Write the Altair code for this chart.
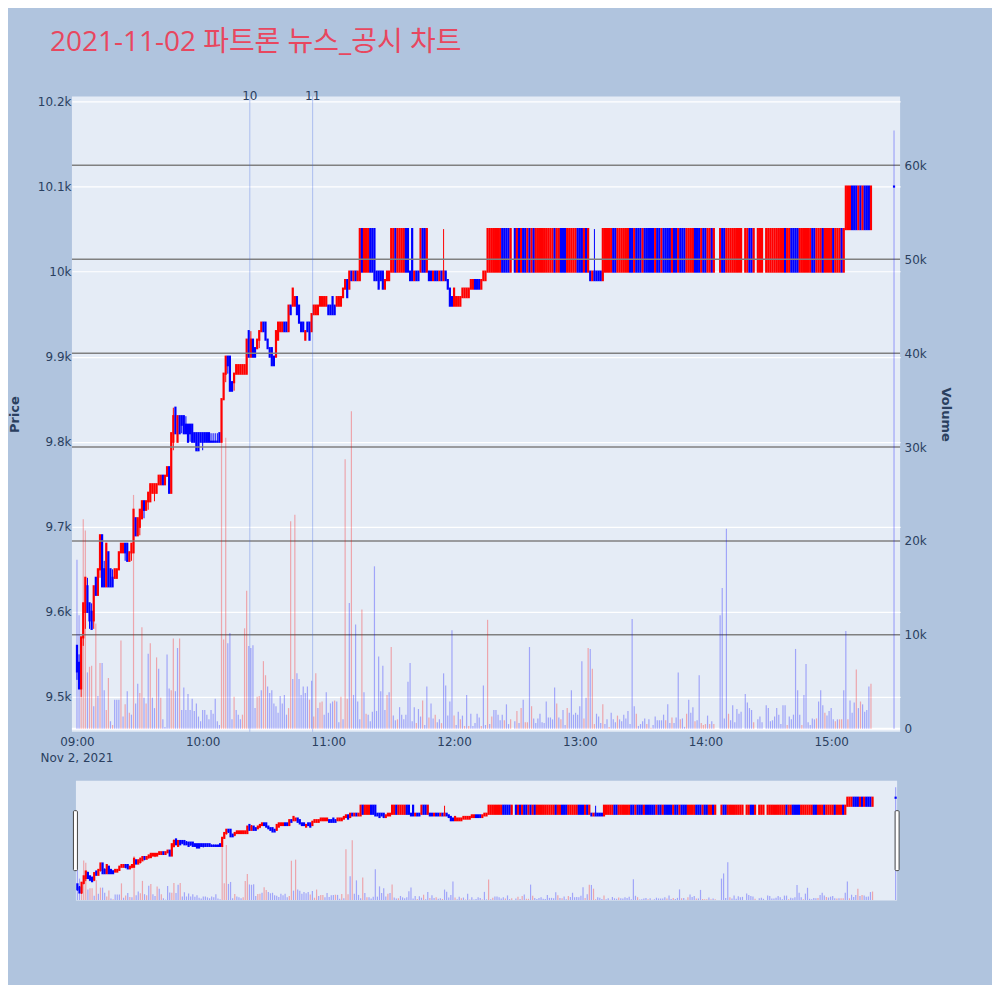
import altair as alt
import pandas as pd

TITLE = "2021-11-02 파트론 뉴스_공시 차트"
DATE_LABEL = "Nov 2, 2021"

# one entry per minute starting 09:00 (None = no trade in that minute)
opens = [
    9560, 9540, 9510, 9570, 9600, 9630, 9610, 9600, 9590, 9640,
    9620, 9650, 9690, 9650, 9630, 9670, 9650, 9640, 9640, 9640,
    9650, 9670, 9670, 9680, 9680, 9660, 9670, 9670, 9710, 9690,
    9700, 9710, 9730, 9720, 9730, 9730, 9740, 9740, 9740, 9750,
    9750, 9760, 9750, 9760, 9770, 9740, 9800, 9840, 9800, 9830,
    9830, 9830, 9820, 9820, 9820, 9820, 9810, 9810, 9810, 9810,
    9810, 9810, 9810, 9810, 9800, 9800, 9800, 9800, 9810, 9800,
    9850, 9880, 9900, 9900, 9870, 9870, 9880, 9880, 9880, 9880,
    9880, 9880, 9930, 9900, 9920, 9910, 9910, 9920, 9930, 9940,
    9940, 9920, 9910, 9910, 9900, 9900, 9920, 9930, 9930, 9940,
    9940, 9930, 9960, 9960, 9960, 9970, 9960, 9940, 9940, 9920,
    9940, 9940, 9930, 9950, 9950, 9950, 9960, 9960, 9960, 9960,
    9960, 9960, 9970, 9960, 9960, 9960, 9960, 9970, 9980, 9990,
    9980, 10000, 9990, 10000, 9990, 9990, 10050, 10000, 10000, 10000,
    10050, 10050, 10050, 10000, 10000, 10000, 10000, 9980, 9990, 9990,
    10000, 10000, 10050, 10000, 10000, 10000, 10000, 10050, 10050, 10000,
    10050, 9990, 10000, 10000, 10000, 10050, 10050, 10000, 10000, 10000,
    9990, 10000, 10000, 9990, 10000, 9990, 10000, 9990, 9980, 9970,
    9960, 9960, 9960, 9960, 9970, 9970, 9970, 9970, 9980, 9980,
    9990, 9990, 9990, 9980, 9990, 9990, 10000, 10000, 10000, 10000,
    10000, 10000, 10000, 10050, 10050, 10050, 10050, 10000, None, 10050,
    10000, 10050, 10000, 10050, 10050, 10000, 10050, 10000, 10050, 10000,
    10000, 10000, 10000, 10000, 10000, 10000, 10000, 10000, 10050, 10000,
    10000, 10050, 10050, 10050, 10000, 10000, 10000, 10000, 10000, 10050,
    10050, 10050, 10000, 10050, 10000, 10000, 9990, 10000, 10000, 10000,
    10000, 9990, 10000, 10000, 10000, 10000, 10050, 10050, 10000, 10000,
    10000, 10000, 10000, 10000, 10050, 10050, 10000, 10050, 10050, 10050,
    10000, 10050, 10050, 10050, 10050, 10050, 10000, 10050, 10050, 10000,
    10050, 10050, 10050, 10050, 10000, 10050, 10050, 10000, 10050, 10050,
    10050, 10000, 10000, 10000, 10000, 10050, 10050, 10050, 10000, 10050,
    10050, 10000, 10000, 10050, 10000, None, None, 10000, 10050, 10050,
    10000, 10000, 10000, 10000, 10000, 10000, 10000, 10000, None, 10000,
    10000, 10050, 10050, 10000, None, 10000, 10000, 10000, None, 10000,
    10000, 10000, 10000, 10000, 10000, 10000, 10000, 10000, 10050, 10000,
    10000, 10050, 10050, 10050, 10050, 10000, 10000, 10000, 10000, 10000,
    10000, 10050, 10050, 10000, 10000, 10000, 10050, 10000, 10000, 10000,
    10000, 10050, 10000, 10000, 10000, 10050, 10000, 10050, 10050, 10050,
    10100, 10100, 10100, 10050, 10100, 10050, 10100, 10100, 10100, 10050,
    None, None, None, None, None, None, None, None, None, None,
    10100,
]
closes = [
    9530, 9510, 9570, 9610, 9640, 9600, 9590, 9580, 9630, 9620,
    9650, 9690, 9630, 9630, 9680, 9630, 9630, 9630, 9650, 9650,
    9670, 9680, 9680, 9670, 9660, 9670, 9680, 9720, 9690, 9710,
    9720, 9730, 9720, 9730, 9740, 9750, 9750, 9750, 9750, 9760,
    9760, 9750, 9760, 9770, 9740, 9810, 9830, 9810, 9830, 9810,
    9820, 9810, 9810, 9800, 9810, 9800, 9800, 9790, 9790, 9800,
    9800, 9800, 9800, 9800, 9800, 9800, 9800, 9800, 9800, 9850,
    9880, 9900, 9890, 9860, 9860, 9880, 9890, 9890, 9890, 9890,
    9890, 9920, 9900, 9920, 9900, 9900, 9920, 9930, 9940, 9930,
    9920, 9910, 9900, 9890, 9890, 9930, 9940, 9940, 9940, 9930,
    9930, 9960, 9950, 9980, 9970, 9950, 9940, 9930, 9930, 9930,
    9930, 9920, 9950, 9960, 9960, 9960, 9970, 9970, 9970, 9970,
    9950, 9950, 9950, 9950, 9970, 9970, 9970, 9980, 9990, 9970,
    10000, 9990, 10000, 9990, 10000, 10050, 10000, 10050, 10050, 10050,
    10000, 10000, 9990, 9990, 9980, 9990, 9980, 9990, 10000, 10000,
    10050, 10050, 10000, 10050, 10050, 10050, 10050, 10000, 10000, 9990,
    9990, 10000, 9990, 9990, 10050, 10000, 10000, 10050, 9990, 9990,
    10000, 9990, 9990, 10000, 9990, 10000, 9990, 9980, 9960, 9960,
    9980, 9970, 9970, 9970, 9980, 9980, 9980, 9980, 9990, 9990,
    9980, 9980, 9980, 9990, 10000, 10000, 10050, 10050, 10050, 10050,
    10050, 10050, 10050, 10000, 10000, 10000, 10000, 10050, None, 10000,
    10050, 10000, 10050, 10000, 10000, 10050, 10000, 10050, 10000, 10050,
    10050, 10050, 10050, 10050, 10050, 10050, 10050, 10050, 10000, 10050,
    10050, 10000, 10000, 10000, 10050, 10050, 10050, 10050, 10050, 10000,
    10000, 10000, 10050, 10000, 10050, 9990, 10000, 9990, 9990, 9990,
    9990, 10050, 10050, 10050, 10050, 10050, 10000, 10000, 10050, 10050,
    10050, 10050, 10050, 10050, 10000, 10000, 10050, 10000, 10000, 10000,
    10050, 10000, 10000, 10000, 10000, 10000, 10050, 10000, 10000, 10050,
    10000, 10000, 10000, 10000, 10050, 10000, 10000, 10050, 10000, 10000,
    10000, 10050, 10050, 10050, 10050, 10000, 10000, 10000, 10050, 10000,
    10000, 10050, 10050, 10000, 10050, None, None, 10050, 10000, 10000,
    10050, 10050, 10050, 10050, 10050, 10050, 10050, 10050, None, 10050,
    10050, 10000, 10000, 10050, None, 10050, 10050, 10050, None, 10050,
    10050, 10050, 10050, 10050, 10050, 10050, 10050, 10050, 10000, 10050,
    10050, 10000, 10000, 10000, 10000, 10050, 10050, 10050, 10050, 10050,
    10050, 10000, 10000, 10050, 10050, 10050, 10000, 10050, 10050, 10050,
    10050, 10000, 10050, 10050, 10050, 10000, 10050, 10100, 10100, 10100,
    10050, 10050, 10050, 10100, 10050, 10100, 10050, 10050, 10050, 10100,
    None, None, None, None, None, None, None, None, None, None,
    10100,
]
highs = [
    9560, 9550, 9570, 9610, 9640, 9640, 9610, 9610, 9630, 9640,
    9650, 9690, 9690, 9660, 9680, 9670, 9650, 9650, 9650, 9650,
    9670, 9680, 9680, 9680, 9680, 9670, 9680, 9720, 9710, 9710,
    9720, 9730, 9730, 9730, 9740, 9750, 9750, 9750, 9750, 9760,
    9760, 9760, 9760, 9770, 9770, 9810, 9840, 9840, 9830, 9830,
    9830, 9830, 9830, 9820, 9820, 9820, 9810, 9810, 9810, 9810,
    9810, 9810, 9810, 9810, 9810, 9810, 9810, 9810, 9810, 9850,
    9880, 9900, 9900, 9900, 9870, 9880, 9890, 9890, 9890, 9890,
    9890, 9920, 9930, 9930, 9920, 9910, 9920, 9930, 9940, 9940,
    9940, 9920, 9910, 9910, 9900, 9930, 9940, 9940, 9940, 9940,
    9940, 9960, 9960, 9980, 9970, 9970, 9960, 9940, 9940, 9930,
    9940, 9940, 9950, 9960, 9960, 9960, 9970, 9970, 9970, 9970,
    9960, 9960, 9970, 9960, 9970, 9970, 9970, 9980, 9990, 9990,
    10000, 10000, 10000, 10000, 10000, 10050, 10050, 10050, 10050, 10050,
    10050, 10050, 10050, 10000, 10000, 10000, 10000, 9990, 10000, 10000,
    10050, 10050, 10050, 10050, 10050, 10050, 10050, 10050, 10050, 10000,
    10050, 10000, 10000, 10000, 10050, 10050, 10050, 10050, 10000, 10000,
    10000, 10000, 10000, 10000, 10000, 10050, 10000, 9990, 9980, 9970,
    9980, 9970, 9970, 9970, 9980, 9980, 9980, 9980, 9990, 9990,
    9990, 9990, 9990, 9990, 10000, 10000, 10050, 10050, 10050, 10050,
    10050, 10050, 10050, 10050, 10050, 10050, 10050, 10050, None, 10050,
    10050, 10050, 10050, 10050, 10050, 10050, 10050, 10050, 10050, 10050,
    10050, 10050, 10050, 10050, 10050, 10050, 10050, 10050, 10050, 10050,
    10050, 10050, 10050, 10050, 10050, 10050, 10050, 10050, 10050, 10050,
    10050, 10050, 10050, 10050, 10050, 10000, 10000, 10050, 10000, 10000,
    10000, 10050, 10050, 10050, 10050, 10050, 10050, 10050, 10050, 10050,
    10050, 10050, 10050, 10050, 10050, 10050, 10050, 10050, 10050, 10050,
    10050, 10050, 10050, 10050, 10050, 10050, 10050, 10050, 10050, 10050,
    10050, 10050, 10050, 10050, 10050, 10050, 10050, 10050, 10050, 10050,
    10050, 10050, 10050, 10050, 10050, 10050, 10050, 10050, 10050, 10050,
    10050, 10050, 10050, 10050, 10050, None, None, 10050, 10050, 10050,
    10050, 10050, 10050, 10050, 10050, 10050, 10050, 10050, None, 10050,
    10050, 10050, 10050, 10050, None, 10050, 10050, 10050, None, 10050,
    10050, 10050, 10050, 10050, 10050, 10050, 10050, 10050, 10050, 10050,
    10050, 10050, 10050, 10050, 10050, 10050, 10050, 10050, 10050, 10050,
    10050, 10050, 10050, 10050, 10050, 10050, 10050, 10050, 10050, 10050,
    10050, 10050, 10050, 10050, 10050, 10050, 10050, 10100, 10100, 10100,
    10100, 10100, 10100, 10100, 10100, 10100, 10100, 10100, 10100, 10100,
    None, None, None, None, None, None, None, None, None, None,
    10100,
]
lows = [
    9520, 9510, 9500, 9560, 9580, 9600, 9580, 9580, 9580, 9620,
    9620, 9640, 9630, 9630, 9630, 9630, 9630, 9630, 9640, 9640,
    9650, 9670, 9670, 9660, 9660, 9660, 9660, 9670, 9690, 9690,
    9690, 9710, 9710, 9720, 9720, 9730, 9740, 9730, 9740, 9750,
    9750, 9750, 9750, 9760, 9740, 9740, 9790, 9810, 9800, 9810,
    9810, 9810, 9810, 9800, 9800, 9800, 9800, 9790, 9790, 9800,
    9790, 9800, 9800, 9800, 9800, 9800, 9800, 9800, 9800, 9800,
    9850, 9870, 9880, 9860, 9860, 9860, 9880, 9880, 9880, 9880,
    9880, 9880, 9900, 9900, 9900, 9900, 9910, 9910, 9930, 9930,
    9920, 9910, 9900, 9890, 9890, 9900, 9920, 9930, 9930, 9930,
    9930, 9930, 9950, 9960, 9960, 9950, 9940, 9930, 9930, 9920,
    9930, 9920, 9930, 9950, 9950, 9950, 9960, 9960, 9960, 9960,
    9950, 9950, 9950, 9950, 9960, 9960, 9960, 9970, 9980, 9970,
    9980, 9990, 9990, 9990, 9990, 9990, 10000, 10000, 10000, 10000,
    10000, 10000, 9990, 9990, 9980, 9990, 9980, 9980, 9990, 9990,
    10000, 10000, 10000, 10000, 10000, 10000, 10000, 10000, 10000, 9990,
    9990, 9990, 9990, 9990, 10000, 10000, 10000, 10000, 9990, 9990,
    9990, 9990, 9990, 9990, 9990, 9990, 9990, 9980, 9960, 9960,
    9960, 9960, 9960, 9960, 9970, 9970, 9970, 9970, 9980, 9980,
    9980, 9980, 9980, 9980, 9990, 9990, 10000, 10000, 10000, 10000,
    10000, 10000, 10000, 10000, 10000, 10000, 10000, 10000, None, 10000,
    10000, 10000, 10000, 10000, 10000, 10000, 10000, 10000, 10000, 10000,
    10000, 10000, 10000, 10000, 10000, 10000, 10000, 10000, 10000, 10000,
    10000, 10000, 10000, 10000, 10000, 10000, 10000, 10000, 10000, 10000,
    10000, 10000, 10000, 10000, 10000, 9990, 9990, 9990, 9990, 9990,
    9990, 9990, 10000, 10000, 10000, 10000, 10000, 10000, 10000, 10000,
    10000, 10000, 10000, 10000, 10000, 10000, 10000, 10000, 10000, 10000,
    10000, 10000, 10000, 10000, 10000, 10000, 10000, 10000, 10000, 10000,
    10000, 10000, 10000, 10000, 10000, 10000, 10000, 10000, 10000, 10000,
    10000, 10000, 10000, 10000, 10000, 10000, 10000, 10000, 10000, 10000,
    10000, 10000, 10000, 10000, 10000, None, None, 10000, 10000, 10000,
    10000, 10000, 10000, 10000, 10000, 10000, 10000, 10000, None, 10000,
    10000, 10000, 10000, 10000, None, 10000, 10000, 10000, None, 10000,
    10000, 10000, 10000, 10000, 10000, 10000, 10000, 10000, 10000, 10000,
    10000, 10000, 10000, 10000, 10000, 10000, 10000, 10000, 10000, 10000,
    10000, 10000, 10000, 10000, 10000, 10000, 10000, 10000, 10000, 10000,
    10000, 10000, 10000, 10000, 10000, 10000, 10000, 10050, 10050, 10050,
    10050, 10050, 10050, 10050, 10050, 10050, 10050, 10050, 10050, 10050,
    None, None, None, None, None, None, None, None, None, None,
    10100,
]
volumes = [
    18000, 12100, 3400, 22300, 21100, 6000, 6600, 6700, 2400, 11200,
    3500, 7000, 7000, 4100, 2000, 5400, 800, 400, 3100, 3100,
    3100, 9400, 1300, 2600, 4000, 1700, 1500, 24900, 2700, 4800,
    3800, 10800, 3300, 2700, 8000, 9100, 3300, 2200, 7600, 6400,
    3300, 1000, 200, 7900, 4300, 4100, 9600, 4000, 8600, 9600,
    2000, 4400, 2000, 3700, 2000, 3200, 1900, 2700, 1300, 800,
    2000, 2000, 1500, 1000, 2000, 1600, 3200, 800, 400, 35000,
    9500, 31000, 9100, 10200, 1000, 3400, 2000, 1500, 1000, 1500,
    10700, 14700, 8800, 8600, 8900, 2200, 3400, 3500, 4100, 7200,
    5700, 4500, 3800, 4100, 2700, 2400, 1700, 3500, 2700, 3600,
    1500, 2200, 22100, 5300, 22800, 5900, 5300, 3600, 4500, 3800,
    4500, 3100, 5100, 1300, 5900, 2200, 2800, 2900, 1500, 3900,
    1700, 2700, 2900, 3000, 2900, 700, 3400, 1000, 28700, 3200,
    13400, 33800, 3600, 11100, 2900, 1000, 12700, 3900, 1600, 1500,
    800, 1800, 17300, 1900, 7700, 4000, 6700, 2000, 3600, 3900,
    8700, 1400, 900, 1000, 2300, 1500, 1000, 1500, 5000, 7000,
    800, 2300, 600, 2100, 1300, 3000, 400, 4500, 1200, 2700,
    1100, 1500, 700, 1000, 600, 5900, 4600, 1400, 2900, 10500,
    1400, 400, 1800, 1000, 1400, 300, 3600, 300, 1600, 300,
    600, 1600, 1200, 300, 4600, 400, 11600, 500, 1300, 2000,
    2000, 1500, 900, 1500, 900, 2600, 500, 1000, None, 800,
    1900, 600, 2200, 3100, 700, 700, 8700, 2400, 1100, 600,
    1100, 1600, 700, 600, 2900, 1200, 1200, 1000, 4400, 2700,
    1200, 1000, 2000, 400, 2200, 1700, 4100, 1500, 1700, 1500,
    2400, 7200, 1100, 3300, 8600, 8500, 6400, 500, 1600, 1300,
    600, 2600, 500, 1000, 200, 1700, 1000, 700, 1400, 1000,
    800, 1500, 1100, 1900, 500, 11700, 2400, 1600, 300, 500,
    800, 1100, 500, 1000, 100, 400, 1300, 900, 900, 900,
    1500, 900, 2600, 600, 1200, 600, 1200, 6000, 1000, 1100,
    200, 1600, 3100, 1700, 2300, 800, 900, 5700, 600, 400,
    500, 1400, 500, 800, 500, None, None, 12100, 15000, 1100,
    21300, 1600, 900, 2500, 700, 2100, 1600, 1800, None, 3700,
    2800, 2200, 2000, 700, None, 1000, 1300, 700, None, 2500,
    2200, 800, 900, 1300, 2200, 1500, 500, 2500, 2500, 400,
    1300, 1000, 1500, 8500, 4100, 1500, 400, 3600, 6900, 700,
    400, 1100, 1000, 1100, 2900, 4100, 2500, 1700, 1400, 1900,
    2200, 1000, 800, 1000, 1000, 1000, 4100, 10400, 1000, 3000,
    1700, 2800, 6300, 2200, 2900, 2600, 1800, 2000, 4500, 4800,
    None, None, None, None, None, None, None, None, None, None,
    63700,
]
# colour of each volume bar: r = rising, b = falling
vol_dirs = (
    "bbrrrbrrbr" "brbbrrbrbb" "brbrbrbrbb" "rrbrbrbbrb" "rbbbbrrbbr"
    "bbbbbbbbbb" "bbbbbbbbbr" "rrbbbrbbbr" "rrbbbbrrbr" "rbbbbbbbbb"
    "brrbrbbbbb" "brbrrbrrbb" "bbbrbbrbrr" "brbbbbrbrb" "bbbbbbbbrb"
    "rbbrbbbbbb" "bbrbbrbbrb" "brbbrbbbbb" "rbbrbrbrbb" "bbbrbbrbrb"
    "bbbbrbbrbb" "rbrbrrbrbb" "bbbbbbbbbr" "brbbrbbbbb" "bbrbrbrrbb"
    "brbbrbbbrb" "bbbbbbbrbb" "bbrbrbbbbb" "brbbrbbbrb" "brbbbrbbrr"
    "rbrbrbbbbb" "brbbbbbbbb" "bbbrbbbbbb" "bbbbbbbbbr" "bbbbbbrbbb"
    "bbbrbbbrbb" "bbrbrrbbrb" "bbrbrbbbbr" "bbbbbbbbbb" "b"
)

news_times = ["10:22:30", "10:52:30"]
news_labels = ["10", "11"]
hour_ticks = ["09:00", "10:00", "11:00", "12:00", "13:00", "14:00", "15:00"]
price_ticks = [9500, 9600, 9700, 9800, 9900, 10000, 10100, 10200]
volume_ticks = [0, 10000, 20000, 30000, 40000, 50000, 60000]

PAPER = "#b0c4de"
PLOT_BG = "#e5ecf6"
INK = "#2a3f5f"
FONT = "DejaVu Sans"
TITLE_FONT = '"Open Sans", "Noto Sans CJK KR", sans-serif'
UP, DOWN = "#ff0000", "#0000ff"


def to_minutes(hhmm):
    parts = [int(p) for p in hhmm.split(":")]
    secs = parts[2] if len(parts) > 2 else 0
    return (parts[0] - 9) * 60 + parts[1] + secs / 60


df = pd.DataFrame({
    "t": range(len(opens)),
    "open": opens, "high": highs, "low": lows, "close": closes,
    "volume": volumes, "vdir": list(vol_dirs),
})
candles = df.dropna(subset=["open"]).copy()
candles["col"] = [UP if c > o else DOWN for o, c in zip(candles["open"], candles["close"])]
vol = df.dropna(subset=["volume"]).copy()
vol["col"] = [UP if d == "r" else DOWN for d in vol["vdir"]]

news = pd.DataFrame({"t": [to_minutes(s) for s in news_times], "label": news_labels})

W, H = 829, 636
SW, SH = 826, 120

x_main = alt.Scale(domain=[-2.4, 392.9], nice=False, zero=False, padding=0)
x_slider = alt.Scale(domain=[-0.7, 390.7], range=[4, 826], nice=False, zero=False, padding=0)
y_price = alt.Scale(domain=[9459, 10206], nice=False, zero=False)
y_vol = alt.Scale(domain=[-320, 67340], nice=False, zero=False)

x_axis = alt.Axis(
    values=[to_minutes(h) for h in hour_ticks],
    labelExpr="(datum.value < 60 ? '0' : '') + (9 + floor(datum.value / 60)) + ':00'",
    grid=False, domain=False, ticks=False, labelPadding=5,
    labelFont=FONT, labelFontSize=12, labelColor=INK, title=None,
)
price_axis = alt.Axis(
    values=price_ticks, format="~s", grid=True, gridColor="white", gridWidth=1.2,
    domain=False, ticks=False, tickSize=0, labelPadding=1,
    labelFont=FONT, labelFontSize=12, labelColor=INK,
    title="Price", titleFont=FONT, titleFontSize=13, titleFontWeight="bold",
    titleColor=INK, titlePadding=16,
)
vol_axis = alt.Axis(
    orient="right", values=volume_ticks, format="~s",
    labelExpr="datum.value == 0 ? '0' : format(datum.value, '~s')", grid=False,
    domain=False, ticks=False, tickSize=0, labelPadding=4,
    labelFont=FONT, labelFontSize=12, labelColor=INK,
    title="Volume", titleFont=FONT, titleFontSize=13, titleFontWeight="bold",
    titleColor=INK, titlePadding=12,
)


def candle_layers(xs, xa, pa, va):
    x = alt.X("t:Q", scale=xs, axis=xa)
    colour = alt.Color("col:N", scale=None)
    wick = alt.Chart(candles).mark_rule(strokeWidth=1).encode(
        x=x, y=alt.Y("low:Q", scale=y_price, axis=pa), y2="high:Q", color=colour
    )
    body = alt.Chart(candles).mark_rule(strokeWidth=2.2, strokeCap="square").encode(
        x=x, y=alt.Y("open:Q", scale=y_price, axis=pa), y2="close:Q", color=colour
    )
    bars = alt.Chart(vol).mark_bar(size=1.2, opacity=0.3).encode(
        x=x, y=alt.Y("volume:Q", scale=y_vol, axis=va), color=colour
    )
    return alt.layer(wick, body), bars


# ---- main panel
price_main, bars_main = candle_layers(x_main, x_axis, price_axis, vol_axis)

vgrid = alt.Chart(pd.DataFrame({"v": volume_ticks})).mark_rule().encode(
    y=alt.Y("v:Q", scale=y_vol, axis=vol_axis),
    color=alt.condition(alt.datum.v == 0, alt.value("white"), alt.value("#808080")),
    strokeWidth=alt.condition(alt.datum.v == 0, alt.value(2), alt.value(1.5)),
)
vol_main = alt.layer(vgrid, bars_main)

x_plain = alt.X("t:Q", scale=x_main, axis=x_axis)
vlines = alt.Chart(news).mark_rule(color="royalblue", opacity=0.35, strokeWidth=1).encode(
    x=x_plain, y=alt.value(0), y2=alt.value(H)
)
vlabels = alt.Chart(news).mark_text(
    baseline="middle", font=FONT, fontSize=12, color=INK
).encode(x=x_plain, y=alt.value(0), text="label:N")

date_text = alt.Chart(pd.DataFrame({"t": [0], "s": [DATE_LABEL]})).mark_text(
    baseline="middle", font=FONT, fontSize=12, color=INK
).encode(x=x_plain, y=alt.value(H + 26), text="s:N")

title_text = alt.Chart(pd.DataFrame({"s": [TITLE]})).mark_text(
    align="left", baseline="alphabetic", font=TITLE_FONT, fontSize=28, color="#e8475f"
).encode(x=alt.value(-22), y=alt.value(-45), text="s:N")

main = (
    alt.layer(price_main, vol_main, vlines, vlabels, date_text, title_text)
    .resolve_scale(y="independent")
    .properties(width=W, height=H, view=alt.ViewBackground(fill=PLOT_BG, strokeWidth=0))
)

# ---- range slider
blank = pd.DataFrame({"k": [0]})
slider_bg = alt.Chart(blank).mark_rect(color=PLOT_BG).encode(
    x=alt.value(4), x2=alt.value(826), y=alt.value(0), y2=alt.value(SH)
)
price_sl, bars_sl = candle_layers(x_slider, None, None, None)


def handle(x0, x1):
    return alt.Chart(blank).mark_rect(
        fill="white", stroke="#444444", strokeWidth=1, cornerRadius=1
    ).encode(x=alt.value(x0), x2=alt.value(x1), y=alt.value(30), y2=alt.value(90))


slider = (
    alt.layer(slider_bg, price_sl, bars_sl, handle(1.5, 5.5), handle(824, 828))
    .resolve_scale(y="independent")
    .properties(width=SW, height=SH, view=alt.ViewBackground(fillOpacity=0, strokeWidth=0))
)

chart = (
    alt.vconcat(main, slider, spacing=17)
    .configure(background=PAPER, font=FONT,
               padding={"left": 0, "top": 21, "right": 40, "bottom": 84})
    .configure_view(strokeWidth=0)
)

chart.save("out.html", embed_options={"renderer": "svg", "actions": False})
